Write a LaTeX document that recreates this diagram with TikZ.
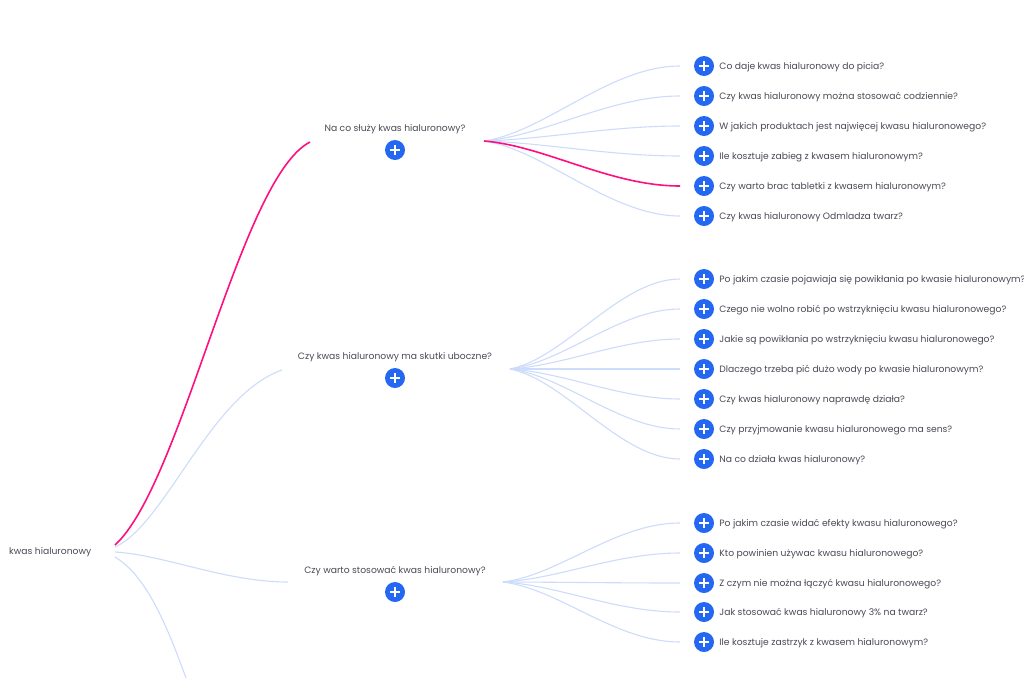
\documentclass[tikz,border=0pt]{standalone}
\usepackage{fontspec}
\usepackage{xcolor}
\usepackage{tikz}
\setmainfont{Poppins}
\usetikzlibrary{positioning}
\definecolor{linkblue}{HTML}{CEDCFC}
\definecolor{linkpink}{HTML}{FF1080}
\definecolor{btnblue}{HTML}{2468F2}
\definecolor{labelgray}{HTML}{4A4A55}
\tikzset{
    link/.style={draw=linkblue, line width=1.1pt},
    hotlink/.style={draw=linkpink, line width=1.6pt},
    plusbtn/.style={circle, fill=btnblue, minimum size=20pt, inner sep=0pt,
        path picture={
            \draw[white, line width=1.7pt]
                ([xshift=-4.6pt]path picture bounding box.center) -- ([xshift=4.6pt]path picture bounding box.center)
                ([yshift=-4.6pt]path picture bounding box.center) -- ([yshift=4.6pt]path picture bounding box.center);
        }},
    lbl/.style={text=labelgray, font=\fontsize{9.2}{11}\selectfont, inner sep=0pt},
}
\begin{document}
\begin{tikzpicture}[x=1pt, y=-1pt]
    \useasboundingbox[fill=white] (0, 0) rectangle (1024, 678);

    % Root
    \node[lbl, anchor=west] (root) at (9, 552) {kwas hialuronowy};
    \coordinate (rootA) at (115, 545);
    \coordinate (rootB) at (115, 547);
    \coordinate (rootC) at (115, 552);
    \coordinate (rootD) at (115, 557);

    % Questions
    \node[lbl] (qA) at (395, 129.5) {Na co służy kwas hialuronowy?};
    \node[plusbtn] (btnA) at (395, 150) {};
    \node[lbl] (qB) at (395, 357.5) {Czy kwas hialuronowy ma skutki uboczne?};
    \node[plusbtn] (btnB) at (395, 378) {};
    \node[lbl] (qC) at (395, 571.5) {Czy warto stosować kwas hialuronowy?};
    \node[plusbtn] (btnC) at (395, 592) {};

    \coordinate (inA) at (310, 142);
    \coordinate (inB) at (282, 370);
    \coordinate (inC) at (288, 582);
    \coordinate (inD) at (186, 678);
    \coordinate (hubA) at (484, 141);
    \coordinate (hubB) at (510, 369);
    \coordinate (hubC) at (503, 582);

    % Root links
    \draw[link] (rootB) .. controls (165, 525) and (210, 395) .. (inB);
    \draw[link] (rootC) .. controls (165, 555) and (225, 582) .. (inC);
    \draw[link] (rootD) .. controls (145, 575) and (165, 620) .. (inD);
    \draw[hotlink] (rootA) .. controls (182, 484) and (240, 178) .. (inA);

    % Leaves of first question
    \foreach \name/\ypos/\txt in {
        1/66/{Co daje kwas hialuronowy do picia?},
        2/96/{Czy kwas hialuronowy można stosować codziennie?},
        3/126/{W jakich produktach jest najwięcej kwasu hialuronowego?},
        4/156/{Ile kosztuje zabieg z kwasem hialuronowym?},
        5/186/{Czy warto brac tabletki z kwasem hialuronowym?},
        6/216/{Czy kwas hialuronowy Odmladza twarz?}} {
        \node[plusbtn] (leafA\name) at (704, \ypos) {};
        \node[lbl, right=5pt of leafA\name, yshift=-1pt] (txtA\name) {\txt};
        \pgfmathsetmacro\ctrl{141+0.12*(\ypos-141)}
        \ifnum\name=5\else
            \draw[link, shorten >=24pt] (hubA) .. controls (545, \ctrl) and (610, \ypos) .. (leafA\name.center);
        \fi
    }
    \draw[hotlink, shorten >=24pt] (hubA) .. controls (545, 146) and (610, 186) .. (leafA5.center);

    % Leaves of second question
    \foreach \name/\ypos/\txt in {
        1/279/{Po jakim czasie pojawiaja się powikłania po kwasie hialuronowym?},
        2/309/{Czego nie wolno robić po wstrzyknięciu kwasu hialuronowego?},
        3/339/{Jakie są powikłania po wstrzyknięciu kwasu hialuronowego?},
        4/369/{Dlaczego trzeba pić dużo wody po kwasie hialuronowym?},
        5/399/{Czy kwas hialuronowy naprawdę działa?},
        6/429/{Czy przyjmowanie kwasu hialuronowego ma sens?},
        7/459/{Na co działa kwas hialuronowy?}} {
        \node[plusbtn] (leafB\name) at (704, \ypos) {};
        \node[lbl, right=5pt of leafB\name, yshift=-1pt] (txtB\name) {\txt};
        \pgfmathsetmacro\ctrl{369+0.12*(\ypos-369)}
        \draw[link, shorten >=24pt] (hubB) .. controls (565, \ctrl) and (620, \ypos) .. (leafB\name.center);
    }

    % Leaves of third question
    \foreach \name/\ypos/\txt in {
        1/523/{Po jakim czasie widać efekty kwasu hialuronowego?},
        2/553/{Kto powinien używac kwasu hialuronowego?},
        3/583/{Z czym nie można łączyć kwasu hialuronowego?},
        4/612/{Jak stosować kwas hialuronowy 3\% na twarz?},
        5/642/{Ile kosztuje zastrzyk z kwasem hialuronowym?}} {
        \node[plusbtn] (leafC\name) at (704, \ypos) {};
        \node[lbl, right=5pt of leafC\name, yshift=-1pt] (txtC\name) {\txt};
        \pgfmathsetmacro\ctrl{582+0.12*(\ypos-582)}
        \draw[link, shorten >=24pt] (hubC) .. controls (560, \ctrl) and (615, \ypos) .. (leafC\name.center);
    }
\end{tikzpicture}
\end{document}
